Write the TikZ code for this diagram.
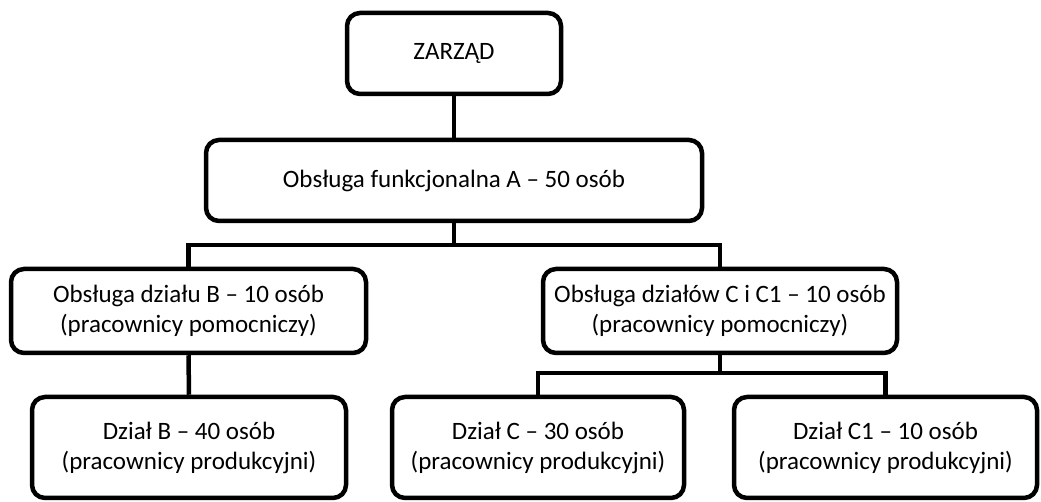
\documentclass[tikz,border=0pt]{standalone}
\usepackage{fontspec}
\setmainfont{Carlito}
\begin{document}
\begin{tikzpicture}[x=1pt,y=1pt,
  box/.style={draw=black, line width=4.5pt, rounded corners=13pt, fill=white,
    align=center, inner sep=0pt, font=\fontsize{25}{30}\selectfont},
  conn/.style={draw=black, line width=4.5pt}]
\useasboundingbox (0,0) rectangle (1041,502);
\node[box, minimum width=214pt, minimum height=81pt] (zarzad) at (454,448.5) {ZARZĄD};
\node[box, minimum width=496pt, minimum height=81pt] (a) at (454,321.5) {Obsługa funkcjonalna A – 50 osób};
\node[box, minimum width=355pt, minimum height=84pt] (obsb) at (188.5,191) {Obsługa działu B – 10 osób\\(pracownicy pomocniczy)};
\node[box, minimum width=354pt, minimum height=84pt] (obsc) at (720,191) {Obsługa działów C i C1 – 10 osób\\(pracownicy pomocniczy)};
\node[box, minimum width=314pt, minimum height=101pt] (dzb) at (189,54.5) {Dział B – 40 osób\\(pracownicy produkcyjni)};
\node[box, minimum width=292pt, minimum height=101pt] (dzc) at (538,54.5) {Dział C – 30 osób\\(pracownicy produkcyjni)};
\node[box, minimum width=303pt, minimum height=101pt] (dzc1) at (885.5,54.5) {Dział C1 – 10 osób\\(pracownicy produkcyjni)};
\coordinate (busa) at (454,257);
\coordinate (busc) at (720,129);
\draw[conn] (zarzad.south) -- (a.north);
\draw[conn] (a.south) -- (busa);
\draw[conn] (obsb.north) |- (busa) -| (obsc.north);
\draw[conn] (obsb.south) -- (dzb.north);
\draw[conn] (obsc.south) -- (busc);
\draw[conn] (dzc.north) |- (busc) -| (dzc1.north);
\end{tikzpicture}
\end{document}
